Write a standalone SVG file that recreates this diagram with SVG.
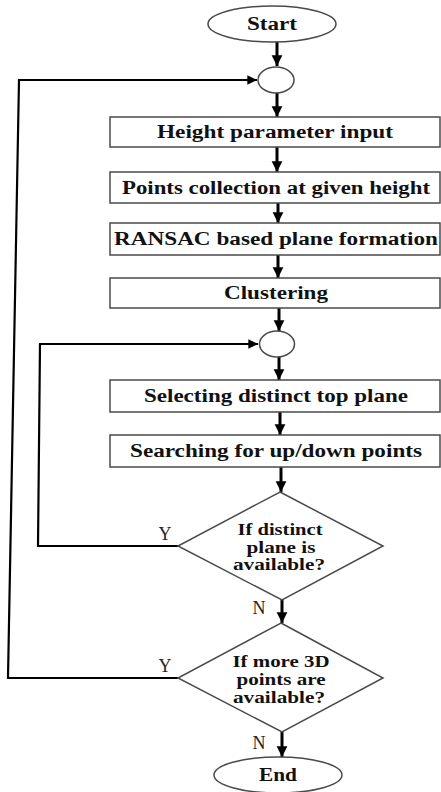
<svg xmlns="http://www.w3.org/2000/svg" width="441" height="792" viewBox="0 0 441 792">
  <style>
    .shape { fill: #ffffff; stroke: #4a4a4a; stroke-width: 1.5; }
    .box-text { font-family: "Liberation Serif", "Times New Roman", serif; font-weight: bold; font-size: 18px; fill: #111; text-anchor: middle; }
    .dec-text { font-family: "Liberation Serif", "Times New Roman", serif; font-weight: bold; font-size: 16px; fill: #111; text-anchor: middle; }
    .lbl { font-family: "Liberation Serif", "Times New Roman", serif; font-size: 18px; fill: #222; text-anchor: middle; }
    .flow { fill: none; stroke: #000; stroke-width: 3; }
    .loop { fill: none; stroke: #000; stroke-width: 2.2; }
  </style>
  <defs>
    <marker id="head" viewBox="0 0 10 10" refX="10" refY="5" markerWidth="3.6" markerHeight="3.8" markerUnits="strokeWidth" orient="auto">
      <path d="M0,0 L10,5 L0,10 Z" fill="#000"/>
    </marker>
    <marker id="headThin" viewBox="0 0 10 10" refX="10" refY="5" markerWidth="5" markerHeight="4.4" markerUnits="strokeWidth" orient="auto">
      <path d="M0,0 L10,5 L0,10 Z" fill="#000"/>
    </marker>
  </defs>

  <!-- connectors -->
  <g id="connectors">
    <line class="flow" x1="277" y1="42" x2="277" y2="66" marker-end="url(#head)"/>
    <line class="flow" x1="277" y1="93" x2="277" y2="117" marker-end="url(#head)"/>
    <line class="flow" x1="277" y1="147" x2="277" y2="172" marker-end="url(#head)"/>
    <line class="flow" x1="278" y1="203" x2="278" y2="223" marker-end="url(#head)"/>
    <line class="flow" x1="278" y1="255" x2="278" y2="278" marker-end="url(#head)"/>
    <line class="flow" x1="279" y1="308" x2="279" y2="331" marker-end="url(#head)"/>
    <line class="flow" x1="279" y1="357" x2="279" y2="380" marker-end="url(#head)"/>
    <line class="flow" x1="280" y1="412" x2="280" y2="435" marker-end="url(#head)"/>
    <line class="flow" x1="281" y1="467" x2="281" y2="492" marker-end="url(#head)"/>
    <line class="flow" x1="282" y1="600" x2="282" y2="623" marker-end="url(#head)"/>
    <line class="flow" x1="282" y1="732" x2="282" y2="757" marker-end="url(#head)"/>
    <!-- inner loop: distinct plane available -->
    <polyline class="loop" points="178,546 38,546 40,344 258,344" marker-end="url(#headThin)"/>
    <!-- outer loop: more 3D points available -->
    <polyline class="loop" points="178,678 8,678 19,80 257,80" marker-end="url(#headThin)"/>
    <text class="lbl" x="165" y="540">Y</text>
    <text class="lbl" x="165" y="672">Y</text>
    <text class="lbl" x="259" y="614">N</text>
    <text class="lbl" x="259" y="749">N</text>
  </g>

  <g id="start">
    <ellipse class="shape" cx="272" cy="24" rx="64" ry="18"/>
    <text class="box-text" x="272" y="30" textLength="50" lengthAdjust="spacingAndGlyphs">Start</text>
  </g>

  <g id="merge1">
    <ellipse class="shape" cx="276" cy="80" rx="18" ry="13"/>
  </g>

  <g id="height-input">
    <rect class="shape" x="110" y="117" width="330" height="30"/>
    <text class="box-text" x="275" y="138" textLength="236" lengthAdjust="spacingAndGlyphs">Height parameter input</text>
  </g>

  <g id="points-collection">
    <rect class="shape" x="110" y="172" width="330" height="31"/>
    <text class="box-text" x="276" y="194" textLength="308" lengthAdjust="spacingAndGlyphs">Points collection at given height</text>
  </g>

  <g id="ransac">
    <rect class="shape" x="110" y="223" width="330" height="32"/>
    <text class="box-text" x="276" y="245" textLength="324" lengthAdjust="spacingAndGlyphs">RANSAC based plane formation</text>
  </g>

  <g id="clustering">
    <rect class="shape" x="110" y="278" width="330" height="30"/>
    <text class="box-text" x="276" y="299" textLength="104" lengthAdjust="spacingAndGlyphs">Clustering</text>
  </g>

  <g id="merge2">
    <ellipse class="shape" cx="277" cy="344" rx="17.5" ry="13"/>
  </g>

  <g id="select-plane">
    <rect class="shape" x="110" y="380" width="330" height="32"/>
    <text class="box-text" x="276" y="402" textLength="264" lengthAdjust="spacingAndGlyphs">Selecting distinct top plane</text>
  </g>

  <g id="search-points">
    <rect class="shape" x="110" y="435" width="330" height="32"/>
    <text class="box-text" x="276" y="457" textLength="292" lengthAdjust="spacingAndGlyphs">Searching for up/down points</text>
  </g>

  <g id="decision-plane">
    <polygon class="shape" points="280,492 383,546 282,600 178,546"/>
    <text class="dec-text" x="280" y="535" textLength="85" lengthAdjust="spacingAndGlyphs">If distinct</text>
    <text class="dec-text" x="281" y="553" textLength="69" lengthAdjust="spacingAndGlyphs">plane is</text>
    <text class="dec-text" x="279" y="570" textLength="92" lengthAdjust="spacingAndGlyphs">available?</text>
  </g>

  <g id="decision-points">
    <polygon class="shape" points="281,623 383,678 282,732 178,678"/>
    <text class="dec-text" x="281" y="667" textLength="97" lengthAdjust="spacingAndGlyphs">If more 3D</text>
    <text class="dec-text" x="281" y="685" textLength="89" lengthAdjust="spacingAndGlyphs">points are</text>
    <text class="dec-text" x="279" y="703" textLength="92" lengthAdjust="spacingAndGlyphs">available?</text>
  </g>

  <g id="end">
    <ellipse class="shape" cx="278" cy="775" rx="64" ry="18"/>
    <text class="box-text" x="278" y="781" textLength="38" lengthAdjust="spacingAndGlyphs">End</text>
  </g>
</svg>
